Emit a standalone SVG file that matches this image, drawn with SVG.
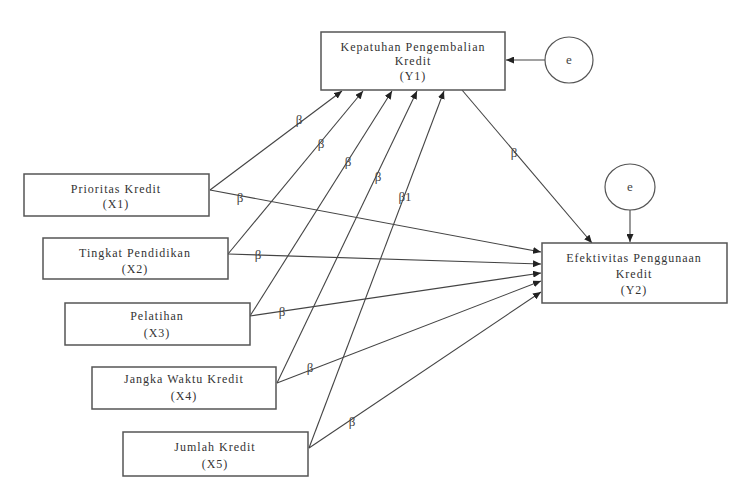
<svg xmlns="http://www.w3.org/2000/svg" width="740" height="494" viewBox="0 0 740 494">
<defs>
<style>
.box{fill:#fff;stroke:#555;stroke-width:1.5}
.circ{fill:#fff;stroke:#555;stroke-width:1.2}
.t{font-family:"Liberation Serif","Times New Roman",serif;font-size:12px;fill:#333;text-anchor:middle;letter-spacing:1px}
.b{font-family:"Liberation Serif","Times New Roman",serif;font-size:13px;fill:#444;text-anchor:middle}
.ln{stroke:#444;stroke-width:1.1;fill:none;marker-end:url(#ah)}
</style>
<marker id="ah" markerWidth="8" markerHeight="7" refX="8" refY="3.5" orient="auto" markerUnits="userSpaceOnUse">
<path d="M0,0 L8,3.5 L0,7 z" fill="#222"/>
</marker>
</defs>
<rect width="740" height="494" fill="#fff"/>
<g id="connectors">
<line class="ln" x1="210" y1="190" x2="342" y2="91"/>
<line class="ln" x1="228" y1="254" x2="363" y2="91"/>
<line class="ln" x1="250" y1="316" x2="392" y2="91"/>
<line class="ln" x1="277" y1="383" x2="417" y2="91"/>
<line class="ln" x1="309" y1="448" x2="444" y2="91"/>
<line class="ln" x1="210" y1="190" x2="541" y2="252"/>
<line class="ln" x1="228" y1="254" x2="541" y2="264"/>
<line class="ln" x1="250" y1="316" x2="541" y2="273"/>
<line class="ln" x1="277" y1="383" x2="541" y2="281"/>
<line class="ln" x1="309" y1="448" x2="541" y2="292"/>
<line class="ln" x1="462" y1="90" x2="592" y2="243"/>
<line class="ln" x1="545" y1="60" x2="506" y2="60"/>
<line class="ln" x1="630" y1="210" x2="630" y2="242"/>
<text class="b" x="299" y="124">β</text>
<text class="b" x="321" y="148">β</text>
<text class="b" x="348" y="166">β</text>
<text class="b" x="378" y="181">β</text>
<text class="b" x="405" y="201">β1</text>
<text class="b" x="240" y="202">β</text>
<text class="b" x="258" y="259">β</text>
<text class="b" x="282" y="316">β</text>
<text class="b" x="310" y="372">β</text>
<text class="b" x="352" y="426">β</text>
<text class="b" x="514" y="157">β</text>
</g>
<g id="Y1">
<rect class="box" x="321" y="32" width="184" height="58"/>
<text class="t" x="413" y="51">Kepatuhan Pengembalian</text>
<text class="t" x="413" y="65">Kredit</text>
<text class="t" x="413" y="80">(Y1)</text>
</g>
<g id="e1">
<ellipse class="circ" cx="569" cy="60" rx="24" ry="23"/>
<text class="b" x="569" y="64">e</text>
</g>
<g id="Y2">
<rect class="box" x="542" y="243" width="185" height="60"/>
<text class="t" x="634" y="262">Efektivitas Penggunaan</text>
<text class="t" x="634" y="278">Kredit</text>
<text class="t" x="634" y="294">(Y2)</text>
</g>
<g id="e2">
<ellipse class="circ" cx="630" cy="187" rx="25" ry="23"/>
<text class="b" x="630" y="191">e</text>
</g>
<g id="X1">
<rect class="box" x="24" y="174" width="185" height="42"/>
<text class="t" x="116" y="193">Prioritas Kredit</text>
<text class="t" x="116" y="208">(X1)</text>
</g>
<g id="X2">
<rect class="box" x="43" y="238" width="185" height="41"/>
<text class="t" x="135" y="257">Tingkat Pendidikan</text>
<text class="t" x="135" y="273">(X2)</text>
</g>
<g id="X3">
<rect class="box" x="65" y="303" width="185" height="42"/>
<text class="t" x="157" y="320">Pelatihan</text>
<text class="t" x="157" y="337">(X3)</text>
</g>
<g id="X4">
<rect class="box" x="92" y="367" width="184" height="42"/>
<text class="t" x="184" y="383">Jangka Waktu Kredit</text>
<text class="t" x="184" y="400">(X4)</text>
</g>
<g id="X5">
<rect class="box" x="123" y="432" width="185" height="44"/>
<text class="t" x="215" y="451">Jumlah Kredit</text>
<text class="t" x="215" y="468">(X5)</text>
</g>
</svg>
